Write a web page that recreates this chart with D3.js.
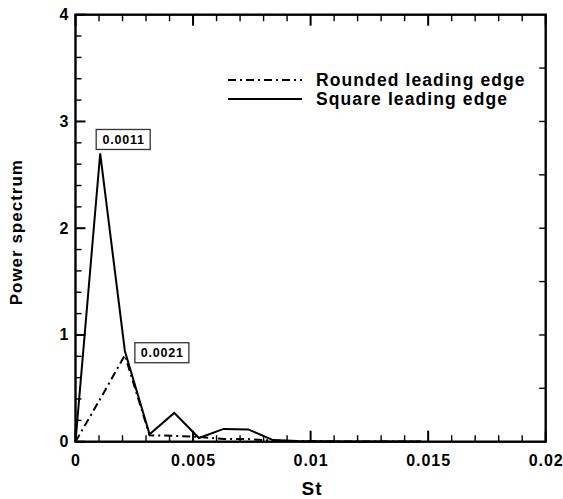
<!DOCTYPE html>
<html><head><meta charset="utf-8">
<script src="https://cdn.jsdelivr.net/npm/d3@7"></script>
<style>html,body{margin:0;padding:0;background:#fff;}svg{display:block;font-family:"Liberation Sans",Arial,sans-serif;font-weight:bold;}</style>
</head><body>
<svg id="chart" width="563" height="499"></svg>
<script>
// Data
const stValues = [0, 0.00105, 0.0021, 0.00315, 0.0042, 0.00525, 0.0063, 0.00735, 0.0084, 0.00945, 0.0105, 0.01155, 0.0126, 0.01365, 0.0147];
const squareLE = [0, 2.70, 0.85, 0.07, 0.27, 0.035, 0.12, 0.115, 0.015, 0.006, 0.004, 0.003, 0.003, 0.002, 0.002];
const roundedLE = [0, 0.40, 0.81, 0.06, 0.055, 0.045, 0.025, 0.025, 0.01, 0.005, 0.003, 0.002, 0.002, 0.002, 0.001];
const xTicks = [0, 0.005, 0.01, 0.015, 0.02];
const xTickLabels = ["0", "0.005", "0.01", "0.015", "0.02"];
const yTicks = [0, 1, 2, 3, 4];
const seriesNames = ["Rounded leading edge", "Square leading edge"];
const peakLabels = [{st: 0.00105, val: 2.70, text: "0.0011"}, {st: 0.0021, val: 0.81, text: "0.0021"}];

const svg = d3.select("#chart");
const L = 75.5, T = 14.7, R = 545.7, B = 441.7;
const x = d3.scaleLinear().domain([0, 0.02]).range([L, R]);
const y = d3.scaleLinear().domain([0, 4]).range([B, T]);

// minor ticks
const xMinor = d3.range(0, 21).map(i => i * 0.001).filter(v => !xTicks.some(t => Math.abs(t - v) < 1e-9));
const yMinor = d3.range(0, 21).map(i => i * 0.2).filter(v => !yTicks.some(t => Math.abs(t - v) < 1e-9));
const g = svg.append("g").attr("stroke", "#000").attr("stroke-width", 1.4);
g.selectAll(".bmin").data(xMinor).join("line").attr("x1", d => x(d)).attr("x2", d => x(d)).attr("y1", B).attr("y2", B - 6.5);
g.selectAll(".bmaj").data(xTicks).join("line").attr("x1", d => x(d)).attr("x2", d => x(d)).attr("y1", B).attr("y2", B - 11).attr("stroke-width", 2);
g.selectAll(".tmin").data(xMinor).join("line").attr("x1", d => x(d)).attr("x2", d => x(d)).attr("y1", T).attr("y2", T + 6.5);
g.selectAll(".tmaj").data(xTicks).join("line").attr("x1", d => x(d)).attr("x2", d => x(d)).attr("y1", T).attr("y2", T + 11).attr("stroke-width", 2);
g.selectAll(".lmin").data(yMinor).join("line").attr("y1", d => y(d)).attr("y2", d => y(d)).attr("x1", L).attr("x2", L + 6);
g.selectAll(".lmaj").data(yTicks).join("line").attr("y1", d => y(d)).attr("y2", d => y(d)).attr("x1", L).attr("x2", L + 10).attr("stroke-width", 2);
const rTicks = d3.range(1, 8).map(i => i * 0.5);
g.selectAll(".rt").data(rTicks).join("line").attr("y1", d => y(d)).attr("y2", d => y(d)).attr("x1", R).attr("x2", R - 6.5);

// frame
svg.append("rect").attr("x", L).attr("y", T).attr("width", R - L).attr("height", B - T)
  .attr("fill", "none").attr("stroke", "#000").attr("stroke-width", 2.4);

// tick labels
svg.selectAll(".xl").data(xTicks).join("text").attr("x", d => x(d) + 0.5).attr("y", B + 24)
  .attr("text-anchor", "middle").attr("font-size", 16).attr("letter-spacing", 1).text((d, i) => xTickLabels[i]);
svg.selectAll(".yl").data(yTicks).join("text").attr("x", L - 6).attr("y", d => y(d) + 5.5)
  .attr("text-anchor", "end").attr("font-size", 16).attr("letter-spacing", 1).text(d => d);

// axis titles
svg.append("text").attr("x", 312).attr("y", 495).attr("text-anchor", "middle").attr("font-size", 19).attr("letter-spacing", 1).text("St");
svg.append("text").attr("transform", `translate(22,${(T + B) / 2 + 4}) rotate(-90)`).attr("text-anchor", "middle").attr("font-size", 17).attr("letter-spacing", 1).text("Power spectrum");

// lines
const line = (vals) => d3.line().x((d, i) => x(stValues[i])).y(d => y(d))(vals);
svg.append("path").attr("d", line(roundedLE)).attr("fill", "none").attr("stroke", "#000").attr("stroke-width", 2).attr("stroke-dasharray", "8,4,2,4");
svg.append("path").attr("d", line(squareLE)).attr("fill", "none").attr("stroke", "#000").attr("stroke-width", 2);

// peak labels
peakLabels.forEach((p, i) => {
  const lg = svg.append("g");
  const w = 54, h = 20;
  const cx = i === 0 ? x(p.st) + 23 : x(p.st) + 37;
  const cy = i === 0 ? y(p.val) - 14 : y(p.val) - 2.5;
  lg.append("rect").attr("x", cx - w / 2).attr("y", cy - h / 2).attr("width", w).attr("height", h)
    .attr("fill", "#fff").attr("stroke", "#333").attr("stroke-width", 1.3);
  lg.append("text").attr("font-size", 12.5).attr("letter-spacing", 0.8).attr("text-anchor", "middle").attr("x", cx + 0.4).attr("y", cy + 4.5).text(p.text);
});

// legend
const legY = [80, 99];
const dashes = ["8,4,2,4", null];
seriesNames.forEach((n, i) => {
  svg.append("line").attr("x1", 228).attr("x2", 302).attr("y1", legY[i]).attr("y2", legY[i])
    .attr("stroke", "#000").attr("stroke-width", 2).attr("stroke-dasharray", dashes[i]);
  svg.append("text").attr("x", 316).attr("y", legY[i] + 6).attr("font-size", 17.5).attr("letter-spacing", 1.1).text(n);
});
</script>
</body></html>
